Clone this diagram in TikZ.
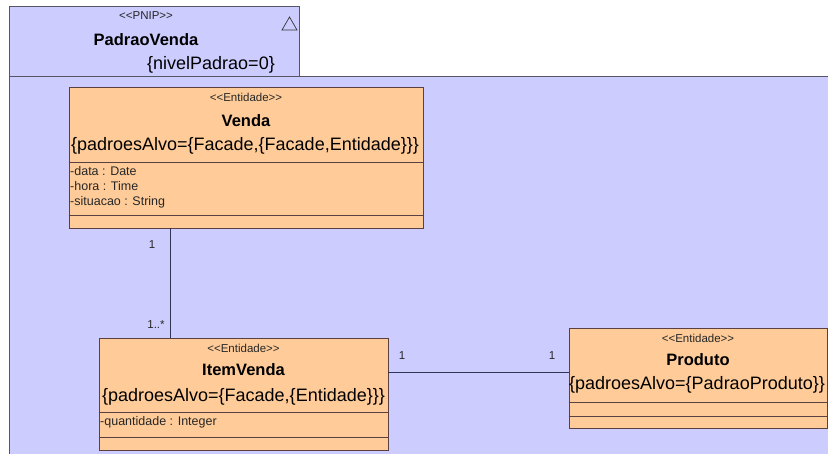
\documentclass[tikz,border=0pt]{standalone}
\usepackage{fontspec}
\setmainfont{Liberation Sans}
\definecolor{pkgfill}{HTML}{CCCCFF}
\definecolor{clsfill}{HTML}{FFCC99}
\definecolor{clsline}{HTML}{5A4040}
\definecolor{pkgline}{HTML}{555566}
\definecolor{conline}{HTML}{333355}
\tikzset{
  px/.style={x=1pt,y=-1pt},
  pkgbox/.style={draw=pkgline,fill=pkgfill,line width=0.8pt},
  clsbox/.style={draw=clsline,fill=clsfill,line width=0.8pt,inner sep=0pt},
  sep/.style={draw=clsline,line width=0.8pt},
  stereo/.style={inner sep=0pt,font=\fontsize{11.5}{13}\selectfont,text=black!85},
  ctitle/.style={inner sep=0pt,font=\fontsize{16.5}{19}\selectfont\bfseries},
  constr/.style={inner sep=0pt,font=\fontsize{18}{21}\selectfont},
  attr/.style={inner sep=0pt,anchor=west,font=\fontsize{12.5}{14}\selectfont,text=black!85},
  mult/.style={inner sep=0pt,font=\fontsize{11.5}{13}\selectfont,text=black!85},
  assoc/.style={draw=conline,line width=0.8pt},
}
\begin{document}
\begin{tikzpicture}[px]
\useasboundingbox (0,0) rectangle (828,454);
\clip (0,0) rectangle (828,454);
\fill[white] (0,0) rectangle (828,454);
% package
\path[pkgbox] (9,76) rectangle (840,470);
\path[pkgbox] (9,6) rectangle (299,76);
\node[stereo] (pst) at (146,16) {<{}<PNIP>{}>};
\node[ctitle] (pname) at (146,40) {PadraoVenda};
\node[constr] (plvl) at (211,65) {\{nivelPadrao=0\}};
\draw[draw=black!80,line width=0.7pt] (282,30) -- (297,30) -- (289.5,17) -- cycle;
% Venda
\node[clsbox,minimum width=354pt,minimum height=141pt] (venda) at (246,157.5) {};
\node[stereo] (vst) at (246,97) {<{}<Entidade>{}>};
\node[ctitle] (vname) at (246,121) {Venda};
\node[constr] (vcon) at (245,146) {\{padroesAlvo=\{Facade,\{Facade,Entidade\}\}\}};
\draw[sep] (venda.west |- 0,162) -- (venda.east |- 0,162);
\draw[sep] (venda.west |- 0,215) -- (venda.east |- 0,215);
\node[attr] (va1) at (70,171) {-data : Date};
\node[attr] (va2) at (70,186.5) {-hora : Time};
\node[attr] (va3) at (70,202) {-situacao : String};
% ItemVenda
\node[clsbox,minimum width=289pt,minimum height=112pt] (item) at (243.5,394) {};
\node[stereo] (ist) at (243.5,348) {<{}<Entidade>{}>};
\node[ctitle] (iname) at (243.5,370) {ItemVenda};
\node[constr] (icon) at (243.5,396.5) {\{padroesAlvo=\{Facade,\{Entidade\}\}\}};
\draw[sep] (item.west |- 0,412) -- (item.east |- 0,412);
\draw[sep] (item.west |- 0,437) -- (item.east |- 0,437);
\node[attr] (ia1) at (100,422.5) {-quantidade : Integer};
% Produto
\node[clsbox,minimum width=258pt,minimum height=100pt] (prod) at (698,378) {};
\node[stereo] (prst) at (698,338) {<{}<Entidade>{}>};
\node[ctitle] (prname) at (698,359.5) {Produto};
\node[constr] (prcon) at (697,384.5) {\{padroesAlvo=\{PadraoProduto\}\}};
\draw[sep] (prod.west |- 0,402) -- (prod.east |- 0,402);
\draw[sep] (prod.west |- 0,416) -- (prod.east |- 0,416);
% associations
\coordinate (vx) at (170.5,0);
\coordinate (hy) at (0,372.5);
\draw[assoc] (vx |- venda.south) -- (vx |- item.north);
\draw[assoc] (item.east |- hy) -- (prod.west |- hy);
\node[mult] (m1) at (152,245) {1};
\node[mult] (m2) at (156,325) {1..*};
\node[mult] (m3) at (402,356) {1};
\node[mult] (m4) at (552,356) {1};
\end{tikzpicture}
\end{document}
